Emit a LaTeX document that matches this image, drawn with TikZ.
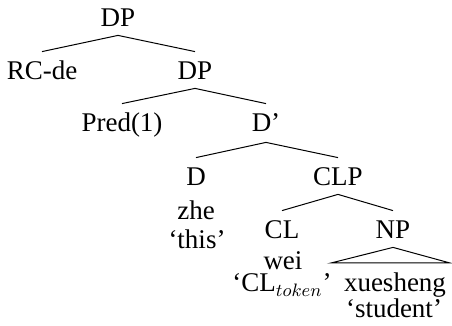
\documentclass[tikz,border=0pt]{standalone}
\usepackage{fontspec}
\setmainfont{Liberation Serif}
\begin{document}
\begin{tikzpicture}[x=0.5pt,y=-0.5pt,
  every node/.style={font=\fontsize{13.5}{16}\selectfont, inner sep=0pt, anchor=base},
  cat/.style={text height=9pt, text depth=0pt},
  branch/.style={line width=0.5pt}]
\useasboundingbox (0,0) rectangle (452,326);
% categories
\node[cat] (DP1) at (118,27) {DP};
\node[cat] (RC) at (42,80) {RC-de};
\node[cat] (DP2) at (195,80) {DP};
\node[cat] (Pred) at (122,132) {Pred(1)};
\node[cat] (Dbar) at (266,132) {D’};
\node[cat] (D) at (196,186) {D};
\node[cat] (CLP) at (338,186) {CLP};
\node[cat] (CL) at (282,239) {CL};
\node[cat] (NP) at (393,239) {NP};
% leaves
\node (zhe) at (196,220) {zhe};
\node (this) at (197,249) {‘this’};
\node (wei) at (283,270) {wei};
\node (cltok) at (282,292) {‘CL$_{token}$’};
\node (xue) at (395,292) {xuesheng};
\node (stu) at (394,318) {‘student’};
% branches
\draw[branch] ([yshift=-4pt]DP1.south) -- ([yshift=5pt]RC.north);
\draw[branch] ([yshift=-4pt]DP1.south) -- ([yshift=5pt]DP2.north);
\draw[branch] ([yshift=-4pt]DP2.south) -- ([yshift=5pt]Pred.north);
\draw[branch] ([yshift=-4pt]DP2.south) -- ([yshift=5pt]Dbar.north);
\draw[branch] ([yshift=-5pt]Dbar.south) -- ([yshift=5pt]D.north);
\draw[branch] ([yshift=-5pt]Dbar.south) -- ([yshift=5pt]CLP.north);
\draw[branch] ([yshift=-4pt]CLP.south) -- ([yshift=5pt]CL.north);
\draw[branch] ([yshift=-4pt]CLP.south) -- ([yshift=5pt]NP.north);
\coordinate (tl) at (331,263);
\coordinate (tr) at (450,263);
\draw[branch] ([yshift=-4pt]NP.south) -- (tl) -- (tr) -- cycle;
\end{tikzpicture}
\end{document}
